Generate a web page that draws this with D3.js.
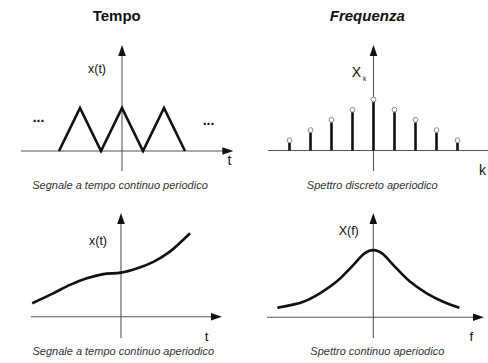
<!DOCTYPE html>
<html>
<head>
<meta charset="utf-8">
<script src="https://cdn.jsdelivr.net/npm/d3@7"></script>
<style>
  html, body { margin: 0; padding: 0; background: #fff; }
  svg { display: block; font-family: "Liberation Sans", Arial, sans-serif; }
</style>
</head>
<body>
<svg id="chart" width="488" height="363"></svg>
<script>
// Periodic triangular signal x(t)
const triT = [-3, -2, -1, 0, 1, 2, 3];
const triX = [0, 1, 0, 1, 0, 1, 0];

// Discrete line spectrum X_k
const specK = [-4, -3, -2, -1, 0, 1, 2, 3, 4];
const specX = [1, 2, 3, 4, 5, 4, 3, 2, 1];

// Aperiodic continuous signal x(t)
const apT = [-2.96, -2.26, -1.7, -1.14, -0.59, 0, 0.52, 1.08, 1.63, 2.3];
const apX = [0.45, 0.78, 1.06, 1.28, 1.42, 1.47, 1.61, 1.83, 2.17, 2.78];

// Continuous spectrum X(f)
const contF = [-3.2, -2.33, -1.78, -1.22, -0.67, -0.33, -0.17, 0, 0.17, 0.33, 0.67, 1.22, 1.78, 2.33, 2.87];
const contX = [0.32, 0.52, 0.8, 1.19, 1.74, 2.1, 2.2, 2.24, 2.2, 2.1, 1.74, 1.19, 0.8, 0.52, 0.32];

// Texts
const titles = ["Tempo", "Frequenza"];
const captions = [
  "Segnale a tempo continuo periodico",
  "Spettro discreto aperiodico",
  "Segnale a tempo continuo aperiodico",
  "Spettro continuo aperiodico"
];

const svg = d3.select("#chart");
const INK = "#111";
const AXIS = "#555";

// Draws a pair of axes with arrowheads
function axes(g, o) {
  g.append("line").attr("x1", o.x0).attr("x2", o.hEnd - (o.hArrow ? 10 : 0))
    .attr("y1", o.y0).attr("y2", o.y0).attr("stroke", AXIS).attr("stroke-width", 1.1);
  g.append("line").attr("x1", o.ox).attr("x2", o.ox)
    .attr("y1", o.vBottom).attr("y2", o.vTop + 10).attr("stroke", AXIS).attr("stroke-width", 1.1);
  if (o.hArrow) {
    g.append("path").attr("fill", INK)
      .attr("d", `M${o.hEnd},${o.y0} L${o.hEnd - 11},${o.y0 - 3.8} L${o.hEnd - 11},${o.y0 + 3.8} Z`);
  }
  g.append("path").attr("fill", INK)
    .attr("d", `M${o.ox},${o.vTop} L${o.ox - 3.8},${o.vTop + 11} L${o.ox + 3.8},${o.vTop + 11} Z`);
}

function label(x, y, txt, size, opts = {}) {
  return svg.append("text").attr("x", x).attr("y", y)
    .attr("text-anchor", opts.anchor || "middle")
    .attr("font-size", size)
    .attr("font-weight", opts.weight || "normal")
    .attr("font-style", opts.style || "normal")
    .attr("fill", opts.fill || INK)
    .text(txt);
}

// ---- Panel 1: periodic signal ----
{
  const x = d3.scaleLinear().domain([0, 1]).range([122, 143]);
  const y = d3.scaleLinear().domain([0, 1]).range([151, 108]);
  const g = svg.append("g");
  axes(g, { x0: x(-4.81), hEnd: x(5.3), y0: y(0), ox: x(0), vTop: 45, vBottom: 171, hArrow: true });
  g.append("path")
    .datum(triT.map((t, i) => [t, triX[i]]))
    .attr("fill", "none").attr("stroke", INK).attr("stroke-width", 2.6)
    .attr("stroke-linejoin", "miter")
    .attr("d", d3.line().x(d => x(d[0])).y(d => y(d[1])));
  label(38.5, 122, "...", 14, { weight: "bold" });
  label(208.5, 125, "...", 14, { weight: "bold" });
  label(97, 73, "x(t)", 12.5);
  label(229.5, 165, "t", 14);
}

// ---- Panel 2: discrete spectrum ----
{
  const x = d3.scaleLinear().domain([0, 1]).range([373.5, 394.5]);
  const y = d3.scaleLinear().domain([0, 1]).range([150.5, 140.3]);
  const g = svg.append("g");
  axes(g, { x0: 268, hEnd: 492, y0: y(0), ox: x(0), vTop: 45, vBottom: 171, hArrow: false });
  const r = 2.4;
  g.selectAll("line.stem").data(specK).join("line").attr("class", "stem")
    .attr("x1", d => x(d)).attr("x2", d => x(d))
    .attr("y1", y(0)).attr("y2", (d, i) => y(specX[i]) + r)
    .attr("stroke", INK).attr("stroke-width", 2.6);
  g.selectAll("circle").data(specK).join("circle")
    .attr("cx", d => x(d)).attr("cy", (d, i) => y(specX[i]))
    .attr("r", r).attr("fill", "#fff").attr("stroke", "#888").attr("stroke-width", 1);
  label(356.5, 77, "X", 14);
  label(364.5, 81, "k", 6.5);
  label(482.5, 175, "k", 14);
}

// ---- Panel 3: aperiodic signal ----
{
  const x = d3.scaleLinear().domain([0, 1]).range([121, 151]);
  const y = d3.scaleLinear().domain([0, 1]).range([316.7, 286.7]);
  const g = svg.append("g");
  axes(g, { x0: 31, hEnd: 222, y0: y(0), ox: x(0), vTop: 213, vBottom: 338, hArrow: true });
  g.append("path")
    .datum(apT.map((t, i) => [t, apX[i]]))
    .attr("fill", "none").attr("stroke", INK).attr("stroke-width", 2.6)
    .attr("d", d3.line().curve(d3.curveCatmullRom.alpha(0.5)).x(d => x(d[0])).y(d => y(d[1])));
  label(98, 245, "x(t)", 12.5);
  label(206.7, 341, "t", 13.5);
}

// ---- Panel 4: continuous spectrum ----
{
  const x = d3.scaleLinear().domain([0, 1]).range([373.3, 403.3]);
  const y = d3.scaleLinear().domain([0, 1]).range([317.3, 287.3]);
  const g = svg.append("g");
  axes(g, { x0: 267, hEnd: 484, y0: y(0), ox: x(0), vTop: 213, vBottom: 338, hArrow: true });
  g.append("path")
    .datum(contF.map((f, i) => [f, contX[i]]))
    .attr("fill", "none").attr("stroke", INK).attr("stroke-width", 2.6)
    .attr("d", d3.line().curve(d3.curveCatmullRom.alpha(0.5)).x(d => x(d[0])).y(d => y(d[1])));
  label(348.7, 235, "X(f)", 12.5);
  label(471.5, 340.5, "f", 13.5);
}

// Column titles
label(116.7, 20.5, titles[0], 15, { weight: "bold" });
label(367.3, 20.5, titles[1], 15, { weight: "bold", style: "italic" });

// Captions
const capPos = [[120, 188.5], [372.3, 188.5], [123.3, 354.5], [377.3, 354.5]];
captions.forEach((c, i) => label(capPos[i][0], capPos[i][1], c, 11, { style: "italic", fill: "#333" }));
</script>
</body>
</html>
